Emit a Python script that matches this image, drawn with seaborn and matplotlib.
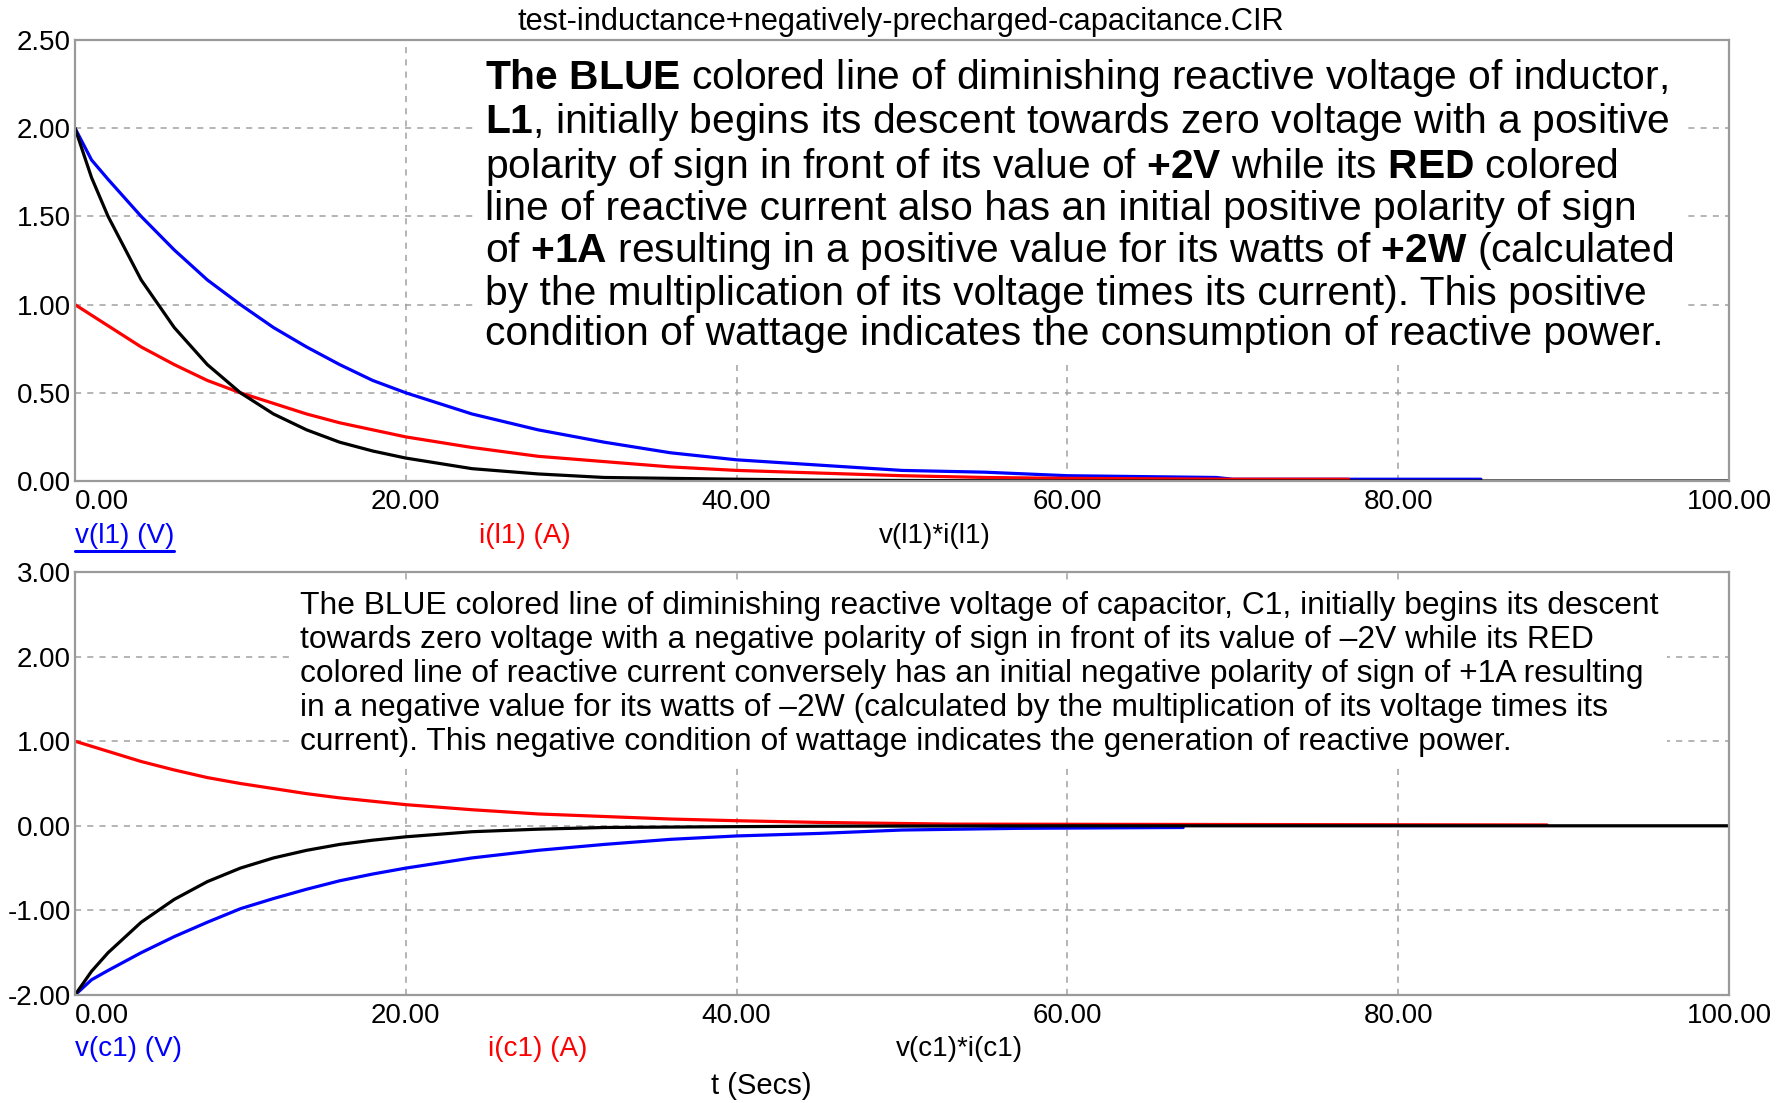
import numpy as np
import pandas as pd
import matplotlib
matplotlib.use("Agg")
import matplotlib.pyplot as plt
import seaborn as sns
from matplotlib.ticker import FormatStrFormatter
from matplotlib.lines import Line2D

# ---- data (time in seconds) ----
title = "test-inductance+negatively-precharged-capacitance.CIR"

# top plot: inductor L1
t_l1_v = [0, 1, 2, 4, 6, 8, 10, 12, 14, 16, 18, 20, 24, 28, 32, 36, 40, 45, 50, 55, 60, 69, 70, 85]
v_l1 = [2.00, 1.82, 1.71, 1.50, 1.31, 1.14, 1.00, 0.87, 0.76, 0.66, 0.57, 0.50, 0.38, 0.29,
        0.22, 0.16, 0.12, 0.09, 0.06, 0.05, 0.03, 0.02, 0.01, 0.01]
t_l1_i = [0, 2, 4, 6, 8, 10, 12, 14, 16, 18, 20, 24, 28, 32, 36, 40, 45, 50, 55, 60, 70, 77]
i_l1 = [1.00, 0.88, 0.76, 0.66, 0.57, 0.50, 0.44, 0.38, 0.33, 0.29, 0.25, 0.19, 0.14, 0.11,
        0.08, 0.06, 0.045, 0.03, 0.02, 0.015, 0.01, 0.01]
t_l1_p = [0, 1, 2, 4, 6, 8, 10, 12, 14, 16, 18, 20, 24, 28, 32, 36, 40, 45, 50, 60, 70, 100]
p_l1 = [2.00, 1.72, 1.50, 1.14, 0.87, 0.66, 0.50, 0.38, 0.29, 0.22, 0.17, 0.13, 0.07, 0.04,
        0.02, 0.015, 0.01, 0.005, 0.003, 0.0, 0.0, 0.0]

# bottom plot: capacitor C1
t_c1_v = [0, 1, 2, 4, 6, 8, 10, 12, 14, 16, 18, 20, 24, 28, 32, 36, 40, 45, 50, 57, 67]
v_c1 = [-2.00, -1.82, -1.71, -1.50, -1.31, -1.14, -0.98, -0.86, -0.75, -0.65, -0.57, -0.50,
        -0.38, -0.29, -0.22, -0.16, -0.12, -0.09, -0.05, -0.03, -0.02]
t_c1_i = [0, 2, 4, 6, 8, 10, 12, 14, 16, 18, 20, 24, 28, 32, 36, 40, 45, 53, 89]
i_c1 = [1.00, 0.88, 0.76, 0.66, 0.57, 0.50, 0.44, 0.38, 0.33, 0.29, 0.25, 0.19, 0.14, 0.11,
        0.08, 0.06, 0.04, 0.02, 0.01]
t_c1_p = [0, 1, 2, 4, 6, 8, 10, 12, 14, 16, 18, 20, 24, 28, 32, 36, 40, 45, 50, 60, 70, 100]
p_c1 = [-2.00, -1.72, -1.50, -1.14, -0.87, -0.66, -0.50, -0.38, -0.29, -0.22, -0.17, -0.13,
        -0.07, -0.04, -0.02, -0.015, -0.01, -0.005, -0.003, 0.0, 0.0, 0.0]

top_labels = ["v(l1) (V)", "i(l1) (A)", "v(l1)*i(l1)"]
bot_labels = ["v(c1) (V)", "i(c1) (A)", "v(c1)*i(c1)"]
top_note = ("$\\mathbf{The\\ BLUE}$ colored line of diminishing reactive voltage of inductor,\n"
            "$\\mathbf{L1}$, initially begins its descent towards zero voltage with a positive\n"
            "polarity of sign in front of its value of $\\mathbf{+2V}$ while its $\\mathbf{RED}$ colored\n"
            "line of reactive current also has an initial positive polarity of sign\n"
            "of $\\mathbf{+1A}$ resulting in a positive value for its watts of $\\mathbf{+2W}$ (calculated\n"
            "by the multiplication of its voltage times its current). This positive\n"
            "condition of wattage indicates the consumption of reactive power.")
bot_note = ("The BLUE colored line of diminishing reactive voltage of capacitor, C1, initially begins its descent\n"
            "towards zero voltage with a negative polarity of sign in front of its value of \u20132V while its RED\n"
            "colored line of reactive current conversely has an initial negative polarity of sign of +1A resulting\n"
            "in a negative value for its watts of \u20132W (calculated by the multiplication of its voltage times its\n"
            "current). This negative condition of wattage indicates the generation of reactive power.")
x_label = "t (Secs)"

# ---- style ----
sns.set_style("white")
plt.rcParams["font.family"] = ["Liberation Sans", "DejaVu Sans"]
plt.rcParams["axes.unicode_minus"] = False
plt.rcParams["text.color"] = "black"
plt.rcParams["mathtext.fontset"] = "custom"
plt.rcParams["mathtext.rm"] = "Liberation Sans"
plt.rcParams["mathtext.bf"] = "Liberation Sans:bold"
plt.rcParams["mathtext.it"] = "Liberation Sans:italic"
plt.rcParams["mathtext.sf"] = "Liberation Sans"

W, H = 1789, 1103
fig = plt.figure(figsize=(W / 100, H / 100), dpi=100)


def fx(px):
    return px / W


def fy(py):
    return 1 - py / H


ax1 = fig.add_axes([fx(75), fy(481), fx(1729) - fx(75), fy(40) - fy(481)])
ax2 = fig.add_axes([fx(75), fy(995), fx(1729) - fx(75), fy(572) - fy(995)])

colors = ["#0000ff", "#ff0000", "#000000"]
series = [
    (ax1, [(t_l1_v, v_l1), (t_l1_i, i_l1), (t_l1_p, p_l1)]),
    (ax2, [(t_c1_v, v_c1), (t_c1_i, i_c1), (t_c1_p, p_c1)]),
]
for ax, lines in series:
    for (tt, yy), c in zip(lines, colors):
        df = pd.DataFrame({"t": tt, "y": yy})
        sns.lineplot(data=df, x="t", y="y", color=c, lw=2.3, ax=ax,
                     estimator=None, sort=True)

for ax, ylim, yticks in [(ax1, (0, 2.5), np.arange(0, 2.51, 0.5)),
                         (ax2, (-2, 3), np.arange(-2, 3.1, 1))]:
    ax.set_xlim(0, 100)
    ax.set_ylim(*ylim)
    ax.set_xticks(np.arange(0, 101, 20))
    ax.set_yticks(yticks)
    ax.xaxis.set_major_formatter(FormatStrFormatter("%.2f"))
    ax.yaxis.set_major_formatter(FormatStrFormatter("%.2f"))
    ax.grid(True, linestyle=(0, (4, 4)), color="#a0a0a0", lw=1.1)
    ax.set_axisbelow(True)
    ax.tick_params(length=0, labelsize=20, colors="black")
    ax.tick_params(axis="x", pad=6)
    ax.tick_params(axis="y", pad=3)
    ax.set_xlabel("")
    ax.set_ylabel("")
    for s in ax.spines.values():
        s.set_color("#9a9a9a")
        s.set_linewidth(1.6)
    ax.get_xticklabels()[0].set_ha("left")

# notes with white background covering the grid
note1 = ax1.text(fx(485), fy(57), top_note, transform=fig.transFigure, ha="left", va="top",
                 fontsize=28, linespacing=1.075,
                 bbox=dict(facecolor="white", edgecolor="none", pad=8))
note2 = ax2.text(fx(300), fy(591), bot_note, transform=fig.transFigure, ha="left", va="top",
                 fontsize=22.5, linespacing=1.175,
                 bbox=dict(facecolor="white", edgecolor="none", pad=6))

# title / legend labels / x label
ttl = fig.text(fx(901), fy(22), title, ha="center", va="center", fontsize=22)
legend_x_top = [75, 479, 879]
legend_x_bot = [75, 488, 896]
leg_texts = []
for lab, x, c in zip(top_labels, legend_x_top, colors):
    leg_texts.append(fig.text(fx(x), fy(536), lab, ha="left", va="center", fontsize=20, color=c))
for lab, x, c in zip(bot_labels, legend_x_bot, colors):
    fig.text(fx(x), fy(1049), lab, ha="left", va="center", fontsize=20, color=c)
fig.text(fx(761), fy(1086), x_label, ha="center", va="center", fontsize=21)

# scale the long texts so their widths match the reference
renderer = fig.canvas.get_renderer()
for txt, target in [(note1, 1187), (note2, 1357), (ttl, 764)]:
    w = txt.get_window_extent(renderer).width
    txt.set_fontsize(txt.get_fontsize() * target / w)

# underline the selected trace name
fig.canvas.draw()
bb = leg_texts[0].get_window_extent().transformed(fig.transFigure.inverted())
fig.add_artist(Line2D([bb.x0, bb.x1], [bb.y0 - 0.002, bb.y0 - 0.002], color=colors[0],
                      lw=2.2, transform=fig.transFigure))

fig.savefig("out.png", dpi=100, facecolor="white")
